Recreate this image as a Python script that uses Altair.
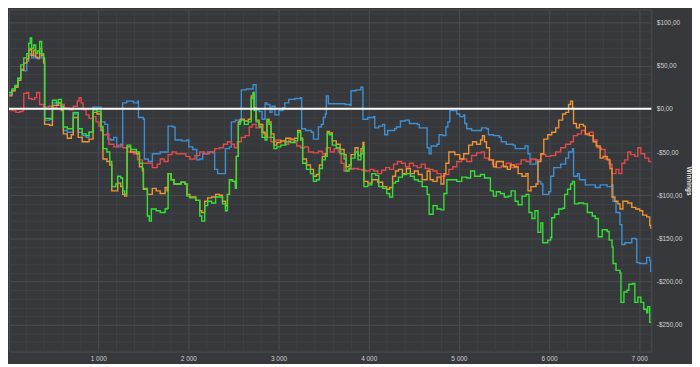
import altair as alt
import pandas as pd

# Each series: (hand number, winnings in $)
BLUE = [(10,17),(43,21),(76,26),(109,36),(141,46),(174,44),(207,55),(229,62),(246,64),(262,59),(284,61),(306,60),(328,58),(350,64),(372,59),(394,55),(405,-13),(460,-12),(492,7),(536,5),(558,7),(591,1),(613,-25),(657,-27),(701,-27),(723,-6),(767,-6),(778,-27),(822,-31),(866,-33),(898,-27),(942,2),(986,2),(1030,-15),(1073,-18),(1106,-35),(1139,-36),(1172,-33),(1205,-44),(1249,-41),(1271,7),(1315,9),(1391,7),(1435,9),(1446,-10),(1501,-12),(1512,-58),(1556,-61),(1600,-52),(1687,-50),(1764,-50),(1775,-20),(1830,-21),(1852,-36),(1929,-37),(1984,-36),(2005,-44),(2049,-47),(2093,-59),(2126,-58),(2159,-52),(2214,-50),(2269,-51),(2291,-70),(2324,-75),(2367,-75),(2411,-46),(2455,-44),(2477,-15),(2521,-13),(2565,-15),(2587,22),(2642,23),(2697,23),(2718,28),(2740,28),(2751,-1),(2784,-3),(2817,-12),(2850,7),(2872,5),(2905,-4),(2927,3),(2960,-7),(3003,-2),(3047,1),(3069,7),(3113,11),(3179,12),(3245,13),(3256,-23),(3299,-25),(3365,-27),(3387,-35),(3420,-35),(3442,-21),(3475,-18),(3497,-10),(3519,-6),(3530,15),(3552,6),(3640,6),(3738,5),(3793,4),(3804,21),(3859,22),(3914,25),(3936,-12),(3990,-10),(4056,-9),(4067,-22),(4111,-20),(4155,-18),(4177,-30),(4210,-25),(4287,-23),(4308,-21),(4352,-14),(4407,-13),(4451,-17),(4539,-18),(4561,-22),(4626,-22),(4648,-45),(4670,-52),(4692,-43),(4758,-41),(4780,-30),(4823,-31),(4856,-21),(4878,-15),(4900,-2),(4944,-2),(4977,-6),(5010,-9),(5054,-7),(5065,-17),(5087,-23),(5141,-25),(5196,-25),(5251,-22),(5306,-23),(5328,-30),(5383,-31),(5449,-33),(5471,-38),(5525,-41),(5602,-42),(5624,-46),(5712,-46),(5734,-43),(5767,-52),(5789,-64),(5822,-64),(5855,-59),(5877,-84),(5909,-87),(5931,-99),(5997,-96),(6019,-78),(6052,-68),(6129,-64),(6184,-57),(6217,-50),(6261,-46),(6272,-78),(6315,-75),(6337,-82),(6403,-88),(6513,-91),(6567,-88),(6644,-90),(6699,-88),(6710,-107),(6743,-120),(6787,-134),(6808,-157),(6841,-155),(6896,-155),(6918,-150),(6962,-151),(6973,-178),(7006,-179),(7061,-179),(7083,-172),(7116,-176),(7127,-188),(7130,-189)]

ORANGE = [(10,15),(43,21),(76,25),(109,33),(141,45),(174,53),(207,58),(229,68),(246,70),(262,62),(284,68),(306,59),(328,59),(350,70),(372,62),(394,53),(405,-18),(460,-19),(492,4),(536,4),(558,7),(591,-2),(613,-29),(657,-34),(701,-30),(723,-10),(767,-10),(778,-33),(822,-38),(866,-38),(898,-35),(942,-4),(986,-6),(1030,-25),(1052,-58),(1096,-61),(1128,-65),(1150,-95),(1194,-95),(1216,-86),(1249,-90),(1271,-99),(1293,-101),(1315,-91),(1320,-44),(1359,-50),(1424,-52),(1457,-67),(1490,-72),(1501,-93),(1545,-99),(1600,-92),(1643,-95),(1687,-98),(1742,-91),(1764,-95),(1775,-75),(1808,-82),(1841,-87),(1918,-85),(1962,-87),(1984,-99),(2016,-102),(2082,-106),(2126,-118),(2148,-120),(2181,-107),(2214,-103),(2258,-102),(2302,-99),(2345,-100),(2378,-107),(2411,-112),(2433,-99),(2455,-82),(2488,-84),(2521,-88),(2532,-55),(2554,-15),(2576,-12),(2620,-14),(2664,-12),(2697,15),(2718,18),(2729,1),(2751,-13),(2784,-18),(2817,-27),(2850,-33),(2872,-12),(2894,-15),(2916,-29),(2949,-42),(2981,-39),(3025,-37),(3080,-34),(3135,-35),(3179,-34),(3212,-25),(3245,-34),(3267,-58),(3310,-65),(3354,-70),(3387,-78),(3420,-76),(3453,-65),(3486,-55),(3519,-52),(3541,-26),(3563,-28),(3596,-37),(3640,-41),(3683,-47),(3727,-53),(3749,-67),(3782,-65),(3804,-53),(3848,-45),(3881,-54),(3914,-46),(3936,-39),(3947,-84),(3990,-86),(4034,-82),(4100,-85),(4155,-90),(4199,-93),(4232,-91),(4265,-78),(4297,-72),(4330,-70),(4374,-75),(4418,-69),(4462,-75),(4506,-72),(4549,-76),(4593,-82),(4648,-72),(4681,-82),(4714,-84),(4758,-79),(4802,-87),(4834,-75),(4856,-63),(4889,-50),(4922,-50),(4955,-53),(5010,-58),(5054,-52),(5109,-42),(5152,-38),(5196,-41),(5240,-36),(5262,-31),(5284,-38),(5306,-45),(5339,-59),(5383,-67),(5416,-61),(5460,-61),(5493,-67),(5537,-70),(5570,-65),(5613,-67),(5657,-75),(5701,-78),(5745,-75),(5767,-95),(5800,-90),(5855,-87),(5877,-61),(5909,-52),(5942,-35),(5986,-30),(6030,-27),(6074,-22),(6107,-13),(6151,-6),(6184,-4),(6217,5),(6239,9),(6261,1),(6272,-17),(6304,-22),(6337,-18),(6381,-20),(6403,-29),(6446,-31),(6490,-38),(6523,-43),(6567,-57),(6600,-55),(6645,-59),(6677,-69),(6699,-102),(6731,-107),(6764,-110),(6787,-116),(6819,-107),(6874,-109),(6918,-114),(6962,-116),(7006,-118),(7039,-123),(7084,-125),(7117,-135),(7130,-139)]

RED = [(10,-1),(43,-2),(87,-4),(130,-3),(163,-2),(174,18),(207,19),(229,12),(262,11),(295,13),(317,19),(339,19),(350,5),(394,2),(449,3),(503,1),(536,4),(591,5),(624,1),(679,-1),(723,3),(767,9),(788,13),(810,7),(832,-1),(865,-7),(898,-11),(942,-9),(975,-15),(1008,-20),(1052,-30),(1096,-29),(1118,-41),(1173,-44),(1216,-42),(1271,-45),(1326,-50),(1391,-52),(1435,-59),(1490,-63),(1545,-63),(1600,-68),(1654,-64),(1687,-58),(1731,-61),(1775,-53),(1819,-50),(1863,-52),(1918,-52),(1973,-55),(2016,-58),(2071,-54),(2126,-50),(2181,-52),(2236,-50),(2291,-46),(2345,-45),(2389,-41),(2433,-38),(2477,-41),(2510,-45),(2543,-38),(2587,-33),(2631,-31),(2675,-21),(2707,-18),(2751,-22),(2795,-18),(2828,-29),(2872,-33),(2916,-38),(2971,-36),(3025,-37),(3069,-41),(3113,-36),(3168,-39),(3201,-43),(3245,-45),(3289,-44),(3332,-50),(3387,-51),(3442,-49),(3486,-52),(3530,-45),(3574,-50),(3618,-46),(3661,-50),(3694,-63),(3727,-72),(3771,-70),(3826,-69),(3881,-70),(3925,-71),(3968,-72),(4012,-70),(4056,-72),(4100,-75),(4144,-71),(4188,-68),(4232,-70),(4276,-64),(4319,-61),(4363,-63),(4407,-67),(4451,-63),(4495,-66),(4539,-68),(4582,-64),(4626,-69),(4670,-70),(4714,-72),(4758,-75),(4802,-78),(4845,-76),(4889,-70),(4933,-67),(4977,-61),(5032,-58),(5087,-61),(5141,-54),(5196,-51),(5251,-50),(5284,-57),(5328,-59),(5372,-64),(5416,-68),(5471,-66),(5525,-63),(5580,-68),(5635,-64),(5690,-59),(5745,-61),(5800,-58),(5855,-59),(5909,-53),(5964,-55),(6019,-54),(6074,-50),(6129,-45),(6184,-41),(6239,-38),(6271,-31),(6315,-29),(6359,-25),(6403,-30),(6446,-27),(6490,-36),(6534,-45),(6578,-47),(6622,-58),(6666,-64),(6699,-75),(6742,-70),(6775,-75),(6808,-63),(6841,-59),(6874,-50),(6907,-53),(6952,-55),(6985,-45),(7018,-52),(7062,-57),(7106,-61),(7130,-60)]

GREEN = [(10,19),(43,23),(76,27),(109,35),(141,51),(174,59),(207,64),(229,76),(246,82),(262,70),(284,74),(306,64),(328,67),(350,78),(372,64),(394,59),(405,-11),(460,-11),(492,10),(536,7),(558,11),(591,3),(613,-21),(657,-23),(701,-23),(723,-4),(767,-4),(778,-23),(822,-29),(866,-31),(898,-27),(942,-1),(986,-3),(1030,-21),(1052,-46),(1096,-50),(1128,-61),(1150,-90),(1194,-87),(1216,-78),(1249,-80),(1271,-95),(1293,-99),(1315,-82),(1320,-42),(1359,-47),(1424,-50),(1457,-63),(1490,-69),(1501,-92),(1545,-124),(1567,-130),(1589,-116),(1643,-118),(1687,-120),(1742,-116),(1764,-115),(1775,-75),(1808,-82),(1841,-87),(1918,-85),(1962,-87),(1984,-101),(2016,-103),(2082,-106),(2126,-124),(2148,-130),(2181,-112),(2214,-107),(2258,-109),(2302,-102),(2345,-102),(2378,-110),(2411,-118),(2433,-99),(2455,-82),(2488,-84),(2521,-92),(2532,-55),(2554,-18),(2576,-13),(2620,-18),(2664,-15),(2697,12),(2718,19),(2729,-2),(2751,-15),(2784,-21),(2817,-33),(2850,-36),(2872,-13),(2894,-18),(2916,-33),(2949,-46),(2981,-44),(3025,-42),(3080,-38),(3135,-39),(3179,-37),(3212,-27),(3245,-36),(3267,-63),(3310,-70),(3354,-75),(3387,-84),(3420,-82),(3453,-69),(3486,-59),(3519,-55),(3541,-28),(3563,-30),(3596,-42),(3640,-45),(3683,-52),(3727,-58),(3749,-72),(3782,-69),(3804,-57),(3848,-50),(3881,-59),(3914,-52),(3936,-44),(3947,-90),(3990,-88),(4034,-75),(4078,-77),(4111,-90),(4155,-92),(4199,-98),(4232,-102),(4265,-86),(4297,-84),(4330,-79),(4374,-76),(4418,-75),(4462,-78),(4506,-82),(4549,-84),(4593,-90),(4648,-99),(4670,-122),(4714,-112),(4758,-116),(4802,-117),(4834,-98),(4867,-82),(4922,-82),(4977,-84),(5032,-79),(5087,-80),(5130,-72),(5174,-78),(5240,-76),(5284,-80),(5317,-80),(5350,-95),(5383,-101),(5416,-96),(5460,-98),(5504,-102),(5548,-101),(5580,-95),(5624,-107),(5657,-111),(5701,-101),(5745,-99),(5778,-120),(5811,-127),(5844,-118),(5877,-143),(5909,-132),(5931,-155),(5986,-152),(6019,-149),(6030,-126),(6063,-122),(6107,-116),(6151,-115),(6173,-99),(6206,-93),(6239,-87),(6261,-84),(6283,-110),(6327,-109),(6381,-110),(6425,-120),(6480,-124),(6513,-127),(6546,-148),(6590,-140),(6645,-142),(6667,-152),(6699,-160),(6710,-179),(6743,-187),(6787,-190),(6798,-224),(6831,-212),(6864,-210),(6886,-203),(6930,-202),(6952,-224),(6985,-218),(7018,-224),(7051,-232),(7084,-236),(7095,-229),(7117,-247),(7130,-247)]

SERIES = [("Blue", BLUE, "#3d8fd3"), ("Red", RED, "#e04a4a"), ("Orange", ORANGE, "#f0942f"), ("Green", GREEN, "#35e035")]

X_TICKS = list(range(200, 7001, 200))
Y_TICKS = list(range(-280, 111, 10))

MAJOR = "#4c4e52"
MINOR = "#3f4145"
BG = "#36383c"
FONT = "Liberation Sans"

x_enc = alt.X(
    "hand:Q",
    scale=alt.Scale(domain=[10, 7135], nice=False, zero=False),
    axis=alt.Axis(
        values=X_TICKS,
        labelExpr="datum.value % 1000 === 0 ? replace(format(datum.value, ','), ',', ' ') : ''",
        gridColor={"condition": {"test": "datum.value % 1000 === 0", "value": MAJOR}, "value": MINOR},
        ticks=False, domain=False, labelOverlap=False, labelBound=False,
        labelColor="#d0d0d0", labelFontSize=6.5, labelPadding=4, title=None,
        labelFont=FONT,
    ),
)
y_enc = alt.Y(
    "winnings:Q",
    scale=alt.Scale(domain=[-281, 115], nice=False, zero=False),
    axis=alt.Axis(
        orient="right",
        values=Y_TICKS,
        labelExpr="datum.value % 50 === 0 ? (datum.value < 0 ? '-$' : '$') + abs(datum.value) + ',00' : ''",
        gridColor={"condition": {"test": "datum.value % 50 === 0", "value": MAJOR}, "value": MINOR},
        ticks=False, domain=False, labelOverlap=False, labelBound=False,
        labelColor="#d0d0d0", labelFontSize=6.5, labelPadding=5, labelFont=FONT,
        title="Winnings", titleAngle=90, titleColor="#e8e8e8", titleFontSize=6.5,
        titleFontWeight="bold", titleFont=FONT, titlePadding=4,
    ),
)

layers = []
for name, pts, color in SERIES:
    df = pd.DataFrame(pts, columns=["hand", "winnings"])
    layers.append(
        alt.Chart(df).mark_line(interpolate="step-after", strokeWidth=1.4, color=color, clip=True)
        .encode(x=x_enc, y=y_enc)
    )

zero = alt.Chart(pd.DataFrame({"winnings": [0]})).mark_rule(color="#ffffff", strokeWidth=2).encode(y=y_enc)
layers.append(zero)

chart = alt.layer(*layers).properties(
    width=648, height=345, background=BG,
    padding={"left": 0, "top": 0, "right": 0, "bottom": 0},
).configure_view(stroke=MAJOR, strokeWidth=1)

chart.save("out.html", embed_options={"renderer": "svg", "actions": False})
